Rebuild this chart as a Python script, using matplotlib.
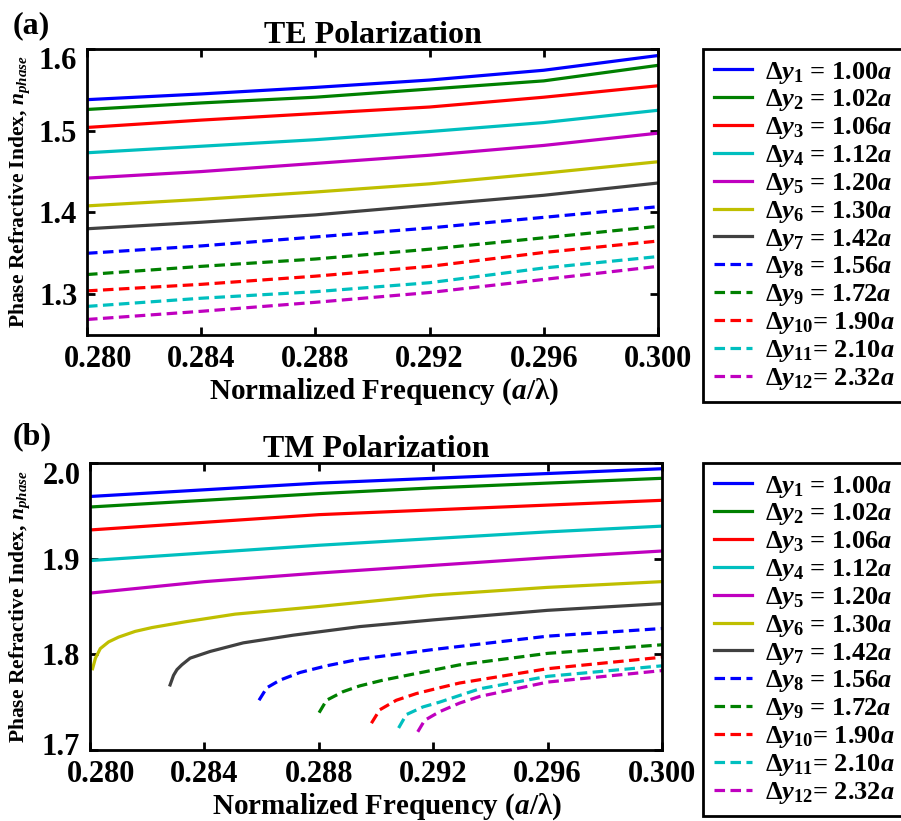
import matplotlib
matplotlib.use("Agg")
import matplotlib.pyplot as plt
from matplotlib.transforms import ScaledTranslation

plt.rcParams['font.family'] = ['Liberation Serif', 'DejaVu Serif']
plt.rcParams['font.weight'] = 'bold'
plt.rcParams['mathtext.fontset'] = 'custom'
plt.rcParams['mathtext.rm'] = 'Liberation Serif:bold'
plt.rcParams['mathtext.bf'] = 'Liberation Serif:bold'
plt.rcParams['mathtext.it'] = 'Liberation Serif:italic:bold'

# ---------------- data ----------------
dy_labels = ['1.00', '1.02', '1.06', '1.12', '1.20', '1.30', '1.42',
             '1.56', '1.72', '1.90', '2.10', '2.32']
colors = ['#0000ff', '#008000', '#ff0000', '#00bfbf', '#bf00bf', '#bfbf00',
          '#404040', '#0000ff', '#008000', '#ff0000', '#00bfbf', '#bf00bf']
styles = ['-'] * 7 + ['--'] * 5

# TE polarization (panel a)
te_freq = [0.280, 0.284, 0.288, 0.292, 0.296, 0.300]
te_n1 = [1.538, 1.545, 1.553, 1.562, 1.574, 1.592]
te_n2 = [1.526, 1.534, 1.541, 1.551, 1.561, 1.580]
te_n3 = [1.504, 1.513, 1.521, 1.529, 1.541, 1.555]
te_n4 = [1.473, 1.481, 1.489, 1.499, 1.510, 1.525]
te_n5 = [1.442, 1.450, 1.460, 1.470, 1.482, 1.497]
te_n6 = [1.408, 1.416, 1.425, 1.435, 1.448, 1.462]
te_n7 = [1.380, 1.388, 1.397, 1.409, 1.421, 1.436]
te_n8 = [1.350, 1.359, 1.370, 1.381, 1.394, 1.407]
te_n9 = [1.324, 1.334, 1.343, 1.355, 1.369, 1.383]
te_n10 = [1.304, 1.312, 1.322, 1.334, 1.351, 1.365]
te_n11 = [1.285, 1.295, 1.303, 1.314, 1.332, 1.346]
te_n12 = [1.269, 1.279, 1.290, 1.302, 1.318, 1.334]
te_curves = [te_n1, te_n2, te_n3, te_n4, te_n5, te_n6, te_n7,
             te_n8, te_n9, te_n10, te_n11, te_n12]

# TM polarization (panel b)
tm_f_base = [0.280, 0.284, 0.288, 0.292, 0.296, 0.300]
tm_n1 = [1.965, 1.972, 1.979, 1.984, 1.989, 1.994]
tm_n2 = [1.954, 1.961, 1.968, 1.974, 1.979, 1.984]
tm_n3 = [1.930, 1.938, 1.946, 1.951, 1.956, 1.961]
tm_n4 = [1.898, 1.906, 1.914, 1.921, 1.928, 1.934]
tm_n5 = [1.864, 1.876, 1.885, 1.893, 1.901, 1.908]
tm_f6 = [0.28009, 0.28019, 0.28036, 0.28065, 0.28100, 0.28158, 0.28217,
         0.28333, 0.28507, 0.288, 0.292, 0.296, 0.300]
tm_n6 = [1.785, 1.796, 1.806, 1.813, 1.818, 1.824, 1.828,
         1.834, 1.842, 1.850, 1.862, 1.870, 1.876]
tm_f7 = [0.28280, 0.28292, 0.28304, 0.28321, 0.28350, 0.28420, 0.28536,
         0.28710, 0.28943, 0.292, 0.296, 0.300]
tm_n7 = [1.768, 1.778, 1.784, 1.789, 1.796, 1.803, 1.812,
         1.820, 1.829, 1.836, 1.846, 1.853]
tm_f8 = [0.28591, 0.28618, 0.28664, 0.28734, 0.28827, 0.28943, 0.29199,
         0.296, 0.300]
tm_n8 = [1.752, 1.765, 1.773, 1.781, 1.788, 1.795, 1.805, 1.819, 1.827]
tm_f9 = [0.28801, 0.28827, 0.28885, 0.28943, 0.29024, 0.29141, 0.29292,
         0.296, 0.300]
tm_n9 = [1.739, 1.752, 1.761, 1.767, 1.773, 1.780, 1.789, 1.801, 1.810]
tm_f10 = [0.28984, 0.29013, 0.29071, 0.29141, 0.29222, 0.29292, 0.296, 0.300]
tm_n10 = [1.728, 1.742, 1.752, 1.759, 1.765, 1.770, 1.785, 1.797]
tm_f11 = [0.29079, 0.29106, 0.29164, 0.29222, 0.29292, 0.29363, 0.296, 0.300]
tm_n11 = [1.723, 1.737, 1.745, 1.750, 1.757, 1.764, 1.777, 1.788]
tm_f12 = [0.29146, 0.29170, 0.29222, 0.29292, 0.29363, 0.296, 0.300]
tm_n12 = [1.719, 1.731, 1.740, 1.749, 1.756, 1.771, 1.783]
tm_curves = [(tm_f_base, tm_n1), (tm_f_base, tm_n2), (tm_f_base, tm_n3),
             (tm_f_base, tm_n4), (tm_f_base, tm_n5), (tm_f6, tm_n6),
             (tm_f7, tm_n7), (tm_f8, tm_n8), (tm_f9, tm_n9),
             (tm_f10, tm_n10), (tm_f11, tm_n11), (tm_f12, tm_n12)]

x_ticks = [0.280, 0.284, 0.288, 0.292, 0.296, 0.300]
te_yticks = [1.3, 1.4, 1.5, 1.6]
tm_yticks = [1.7, 1.8, 1.9, 2.0]


def make_label(i, val):
    sub = str(i + 1)
    if len(sub) == 1:
        return r'$\Delta y_{%s}$ = %s$a$' % (sub, val)
    return r'$\Delta y_{%s}$= %s$a$' % (sub, val)


labels = [make_label(i, v) for i, v in enumerate(dy_labels)]

fig = plt.figure(figsize=(9.01, 8.21), dpi=100)
ax1 = fig.add_axes([87 / 901, 1 - 335 / 821, 571 / 901, 286 / 821])
ax2 = fig.add_axes([90 / 901, 1 - 750 / 821, 572 / 901, 287 / 821])


def style_axes(ax, yticks, ylim, title):
    ax.set_xlim(0.280, 0.300)
    ax.set_ylim(*ylim)
    ax.set_xticks(x_ticks)
    ax.set_xticklabels(['%.3f' % t for t in x_ticks])
    ax.set_yticks(yticks)
    ax.set_yticklabels(['%.1f' % t for t in yticks])
    ax.tick_params(direction='in', length=6, width=2, top=True, right=True,
                   labelsize=22, pad=7)
    for s in ax.spines.values():
        s.set_linewidth(2)
    ax.set_title(title, fontsize=23, fontweight='bold', pad=4)
    ax.set_xlabel('Normalized Frequency ($a$/λ)', fontsize=21, fontweight='bold')
    ax.set_ylabel('Phase Refractive Index, $n_{phase}$', fontsize=15.5, fontweight='bold')


for i, n in enumerate(te_curves):
    ax1.plot(te_freq, n, color=colors[i], linestyle=styles[i], linewidth=2.3,
             dashes=(3.3, 1.7) if styles[i] == '--' else (None, None),
             label=labels[i])
for i, (f, n) in enumerate(tm_curves):
    ax2.plot(f, n, color=colors[i], linestyle=styles[i], linewidth=2.3,
             dashes=(3.3, 1.7) if styles[i] == '--' else (None, None),
             label=labels[i])

style_axes(ax1, te_yticks, (1.25, 1.60), 'TE Polarization')
style_axes(ax2, tm_yticks, (1.70, 2.00), 'TM Polarization')
ax1.yaxis.set_label_coords(-0.097, 0.5)
ax2.yaxis.set_label_coords(-0.102, 0.5)
ax1.xaxis.set_label_coords(0.52, -0.145)
ax2.xaxis.set_label_coords(0.52, -0.145)


def shift(label, dx_px, dy_px):
    off = ScaledTranslation(dx_px / 100.0, dy_px / 100.0, fig.dpi_scale_trans)
    label.set_transform(label.get_transform() + off)


# edge tick labels nudged inward, as in the original figure
for ax in (ax1, ax2):
    shift(ax.get_xticklabels()[0], 11, 0)
shift(ax1.get_yticklabels()[-1], 0, -9)
shift(ax2.get_yticklabels()[-1], 0, -10)
shift(ax2.get_yticklabels()[0], 0, 6)

for ax, top in [(ax1, 1 - 49 / 821), (ax2, 1 - 463 / 821)]:
    leg = ax.legend(loc='upper left', bbox_to_anchor=(703 / 901, top, 0.25, 0.0),
                    bbox_transform=fig.transFigure, borderaxespad=0,
                    fontsize=19, handlelength=1.45, handletextpad=0.5,
                    labelspacing=0.07, borderpad=0.4, frameon=True,
                    fancybox=False, edgecolor='black', framealpha=1)
    leg.get_frame().set_linewidth(2)

fig.text(13 / 901, 1 - 33 / 821, '(a)', fontsize=23, fontweight='bold', va='baseline')
fig.text(13 / 901, 1 - 444 / 821, '(b)', fontsize=23, fontweight='bold', va='baseline')

fig.savefig('out.png', dpi=100)
